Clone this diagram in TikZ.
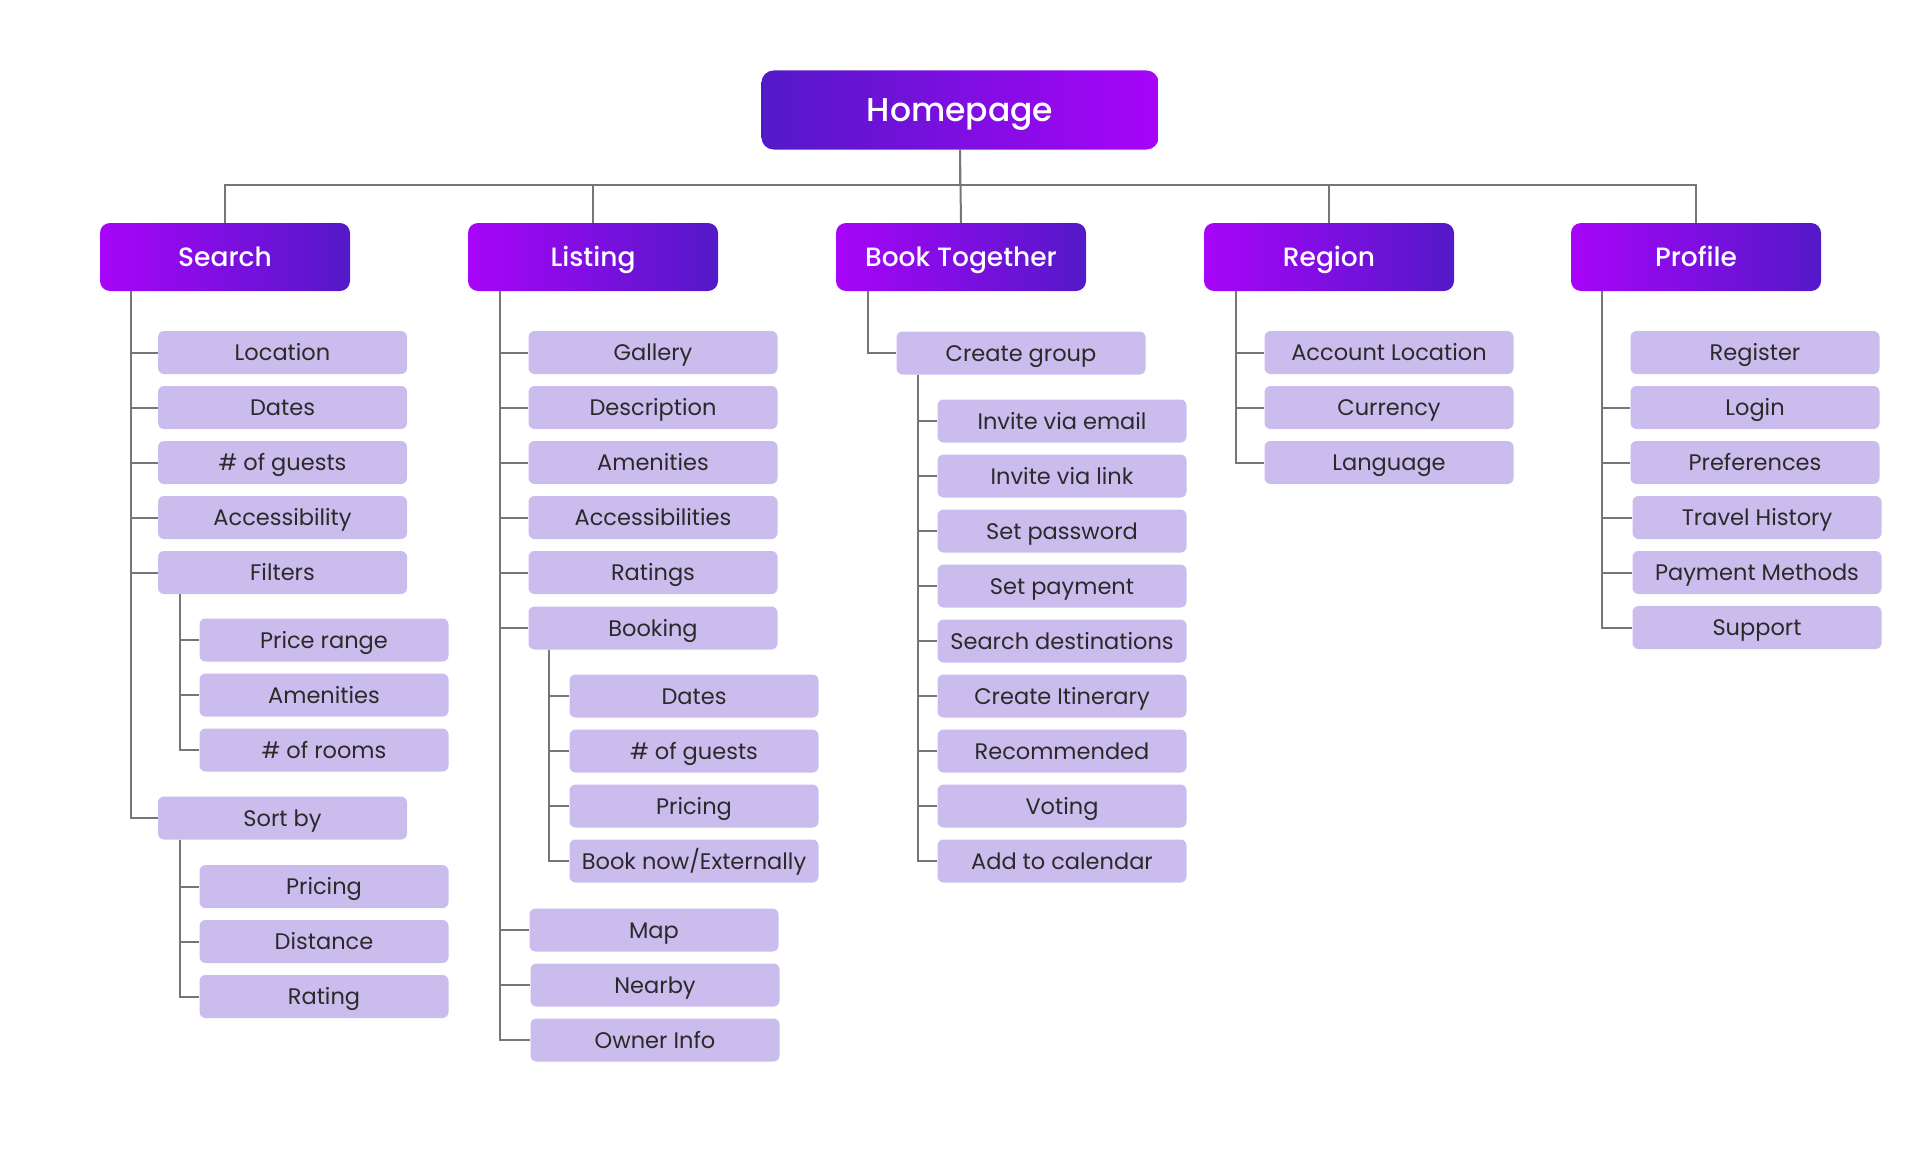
\documentclass[tikz,border=0pt]{standalone}
\usepackage{fontspec}
\setmainfont{Poppins}
\newfontfamily\headfont{Poppins}[UprightFont={* Medium}]
\usepackage{tikz}
\definecolor{violetA}{HTML}{A804F9}
\definecolor{indigoA}{HTML}{5319C8}
\definecolor{lilac}{HTML}{CBBCEE}
\definecolor{ink}{HTML}{2A2A2A}
\definecolor{wire}{HTML}{767676}

\begin{document}
\begin{tikzpicture}[x=1pt,y=-1pt,
  root/.style={rounded corners=12pt,minimum width=397pt,minimum height=79pt,inner sep=0pt,
    left color=indigoA,right color=violetA,text=white,
    font=\headfont\fontsize{33}{38}\selectfont,text height=23pt,text depth=0pt},
  cat/.style={rounded corners=10pt,minimum width=250pt,minimum height=68pt,inner sep=0pt,
    left color=violetA,right color=indigoA,text=white,
    font=\headfont\fontsize{26.5}{31}\selectfont,text height=18.5pt,text depth=0pt},
  item/.style={fill=lilac,rounded corners=6pt,minimum width=249pt,minimum height=43pt,inner sep=0pt,
    text=ink,font=\fontsize{22.5}{27}\selectfont,text height=16pt,text depth=0pt},
  link/.style={draw=wire,line width=2pt}]
\useasboundingbox (0,0) rectangle (1920,1164);
% --- top levels ---
\node[root] (home)    at (960,110)  {Homepage};
\node[cat]  (search)  at (225,257)  {Search};
\node[cat]  (listing) at (593,257)  {Listing};
\node[cat]  (book)    at (961,257)  {Book Together};
\node[cat]  (region)  at (1329,257) {Region};
\node[cat]  (profile) at (1696,257) {Profile};
% --- search ---
\node[item] (sloc)     at (282.5,352.5) {Location};
\node[item] (sdates)   at (282.5,407.5) {Dates};
\node[item] (sguests)  at (282.5,462.5) {\# of guests};
\node[item] (saccess)  at (282.5,517.5) {Accessibility};
\node[item] (sfilter)  at (282.5,572.5) {Filters};
\node[item] (fprice)   at (324,640)     {Price range};
\node[item] (famen)    at (324,695)     {Amenities};
\node[item] (frooms)   at (324,750)     {\# of rooms};
\node[item] (ssort)    at (282.5,818)   {Sort by};
\node[item] (opricing) at (324,886.5)   {Pricing};
\node[item] (odist)    at (324,941.5)   {Distance};
\node[item] (orating)  at (324,996.5)   {Rating};
% --- listing ---
\node[item] (lgallery) at (653,352.5) {Gallery};
\node[item] (ldescr)   at (653,407.5) {Description};
\node[item] (lamen)    at (653,462.5) {Amenities};
\node[item] (laccess)  at (653,517.5) {Accessibilities};
\node[item] (lratings) at (653,572.5) {Ratings};
\node[item] (lbooking) at (653,628)   {Booking};
\node[item] (bdates)   at (694,696)   {Dates};
\node[item] (bguests)  at (694,751)   {\# of guests};
\node[item] (bpricing) at (694,806)   {Pricing};
\node[item] (bnow)     at (694,861)   {Book now/Externally};
\node[item] (lmap)     at (654,930)   {Map};
\node[item] (lnearby)  at (655,985)   {Nearby};
\node[item] (lowner)   at (655,1040)  {Owner Info};
% --- book together ---
\node[item] (gcreate)  at (1021,353) {Create group};
\node[item] (gemail)   at (1062,421) {Invite via email};
\node[item] (glink)    at (1062,476) {Invite via link};
\node[item] (gpass)    at (1062,531) {Set password};
\node[item] (gpay)     at (1062,586) {Set payment};
\node[item] (gdest)    at (1062,641) {Search destinations};
\node[item] (gitin)    at (1062,696) {Create Itinerary};
\node[item] (grec)     at (1062,751) {Recommended};
\node[item] (gvote)    at (1062,806) {Voting};
\node[item] (gcal)     at (1062,861) {Add to calendar};
% --- region ---
\node[item] (racc)  at (1389,352.5) {Account Location};
\node[item] (rcur)  at (1389,407.5) {Currency};
\node[item] (rlang) at (1389,462.5) {Language};
% --- profile ---
\node[item] (preg)   at (1755,352.5) {Register};
\node[item] (plogin) at (1755,407.5) {Login};
\node[item] (ppref)  at (1755,462.5) {Preferences};
\node[item] (ptrav)  at (1757,517.5) {Travel History};
\node[item] (ppay)   at (1757,572.5) {Payment Methods};
\node[item] (psupp)  at (1757,627.5) {Support};
% --- homepage to sections ---
\draw[link] (home.south) -- ++(0,35) -| (search.north);
\draw[link] (home.south) -- ++(0,35) -| (listing.north);
\draw[link] (home.south) -- (book.north);
\draw[link] (home.south) -- ++(0,35) -| (region.north);
\draw[link] (home.south) -- ++(0,35) -| (profile.north);
% --- search tree ---
\draw[link] ([xshift=31pt]search.south west) |- (sloc.west);
\draw[link] ([xshift=31pt]search.south west) |- (sdates.west);
\draw[link] ([xshift=31pt]search.south west) |- (sguests.west);
\draw[link] ([xshift=31pt]search.south west) |- (saccess.west);
\draw[link] ([xshift=31pt]search.south west) |- (sfilter.west);
\draw[link] ([xshift=31pt]search.south west) |- (ssort.west);
\draw[link] ([xshift=22pt]sfilter.south west) |- (fprice.west);
\draw[link] ([xshift=22pt]sfilter.south west) |- (famen.west);
\draw[link] ([xshift=22pt]sfilter.south west) |- (frooms.west);
\draw[link] ([xshift=22pt]ssort.south west) |- (opricing.west);
\draw[link] ([xshift=22pt]ssort.south west) |- (odist.west);
\draw[link] ([xshift=22pt]ssort.south west) |- (orating.west);
% --- listing tree ---
\draw[link] ([xshift=32pt]listing.south west) |- (lgallery.west);
\draw[link] ([xshift=32pt]listing.south west) |- (ldescr.west);
\draw[link] ([xshift=32pt]listing.south west) |- (lamen.west);
\draw[link] ([xshift=32pt]listing.south west) |- (laccess.west);
\draw[link] ([xshift=32pt]listing.south west) |- (lratings.west);
\draw[link] ([xshift=32pt]listing.south west) |- (lbooking.west);
\draw[link] ([xshift=32pt]listing.south west) |- (lmap.west);
\draw[link] ([xshift=32pt]listing.south west) |- (lnearby.west);
\draw[link] ([xshift=32pt]listing.south west) |- (lowner.west);
\draw[link] ([xshift=21pt]lbooking.south west) |- (bdates.west);
\draw[link] ([xshift=21pt]lbooking.south west) |- (bguests.west);
\draw[link] ([xshift=21pt]lbooking.south west) |- (bpricing.west);
\draw[link] ([xshift=21pt]lbooking.south west) |- (bnow.west);
% --- book together tree ---
\draw[link] ([xshift=32pt]book.south west) |- (gcreate.west);
\draw[link] ([xshift=22pt]gcreate.south west) |- (gemail.west);
\draw[link] ([xshift=22pt]gcreate.south west) |- (glink.west);
\draw[link] ([xshift=22pt]gcreate.south west) |- (gpass.west);
\draw[link] ([xshift=22pt]gcreate.south west) |- (gpay.west);
\draw[link] ([xshift=22pt]gcreate.south west) |- (gdest.west);
\draw[link] ([xshift=22pt]gcreate.south west) |- (gitin.west);
\draw[link] ([xshift=22pt]gcreate.south west) |- (grec.west);
\draw[link] ([xshift=22pt]gcreate.south west) |- (gvote.west);
\draw[link] ([xshift=22pt]gcreate.south west) |- (gcal.west);
% --- region tree ---
\draw[link] ([xshift=32pt]region.south west) |- (racc.west);
\draw[link] ([xshift=32pt]region.south west) |- (rcur.west);
\draw[link] ([xshift=32pt]region.south west) |- (rlang.west);
% --- profile tree (no tick to Register) ---
\draw[link] ([xshift=31pt]profile.south west) |- (plogin.west);
\draw[link] ([xshift=31pt]profile.south west) |- (ppref.west);
\draw[link] ([xshift=31pt]profile.south west) |- (ptrav.west);
\draw[link] ([xshift=31pt]profile.south west) |- (ppay.west);
\draw[link] ([xshift=31pt]profile.south west) |- (psupp.west);
\end{tikzpicture}
\end{document}
